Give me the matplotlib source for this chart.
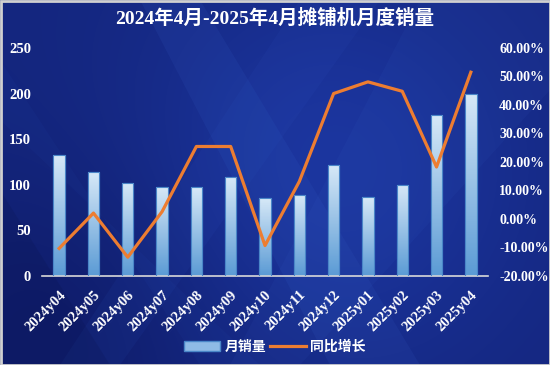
import numpy as np
import matplotlib.pyplot as plt
from matplotlib.patches import Polygon, Patch
from matplotlib.lines import Line2D
from matplotlib.colors import LinearSegmentedColormap

# data
months = ['2024y04', '2024y05', '2024y06', '2024y07', '2024y08', '2024y09', '2024y10',
          '2024y11', '2024y12', '2025y01', '2025y02', '2025y03', '2025y04']
sales = [132, 114, 102, 97, 97, 108, 85, 89, 121, 86, 100, 176, 200]
yoy = [-10.4, 2.0, -13.5, 2.5, 25.4, 25.4, -9.4, 13.1, 44.0, 48.1, 44.8, 18.2, 51.5]

title = '2024年4月-2025年4月摊铺机月度销量'
serif = ['Liberation Serif', 'Noto Sans CJK SC']
plt.rcParams['font.family'] = serif
plt.rcParams['font.weight'] = 'bold'

fig = plt.figure(figsize=(5.5, 3.65), dpi=100)
fig.patch.set_facecolor('#0f1c6e')

# background: gradient + diagonal streaks
bg = fig.add_axes([0, 0, 1, 1], zorder=0)
bg.set_xlim(0, 550)
bg.set_ylim(365, 0)
bg.axis('off')
yy, xx = np.mgrid[0:365, 0:550]
grad = 0.5 + 0.4 * np.exp(-((xx - 330) ** 2 + (yy - 170) ** 2) / 40000.0)
grad = grad - 0.25 * np.exp(-((xx - 60) ** 2 + (yy - 330) ** 2) / 30000.0)
dark = np.array([0x0a, 0x12, 0x55]) / 255
light = np.array([0x1e, 0x3a, 0xa8]) / 255
img = dark[None, None, :] + (light - dark)[None, None, :] * grad[..., None]
bg.imshow(np.clip(img, 0, 1), extent=(0, 550, 365, 0), aspect='auto')
streaks = [
    [(140, 0), (200, 0), (420, 365), (330, 365)],
    [(0, 60), (0, 120), (260, 365), (200, 365)],
    [(300, 0), (380, 0), (120, 365), (60, 365)],
    [(420, 0), (550, 0), (550, 90), (300, 365), (230, 365)],
    [(0, 190), (110, 365), (0, 365)],
]
alphas = [0.10, 0.07, 0.08, 0.06, 0.12]
cols = ['#3f6fd8', '#2e54c0', '#3560d0', '#4a7ae0', '#050a35']
for pts, a, c in zip(streaks, alphas, cols):
    bg.add_patch(Polygon(pts, closed=True, facecolor=c, alpha=a, edgecolor='none'))
bg.add_patch(plt.Rectangle((0.5, 0.5), 549, 364, fill=False, edgecolor='#d0d0d0', lw=2))

ax = fig.add_axes([42 / 550, 1 - 275.7 / 365, 446 / 550, (275.7 - 48) / 365], zorder=2)
ax.patch.set_alpha(0)
x = np.arange(len(months))
bars = ax.bar(x, sales, width=0.33, color='#6fa8dc', edgecolor='#4a86c8', lw=0.8, zorder=2)

# vertical gradient inside bars
gimg = np.linspace(0, 1, 100).reshape(-1, 1)
cm = LinearSegmentedColormap.from_list('b', ['#5b9bd5', '#d6e8f7'])
for b in bars:
    x0, w, h = b.get_x(), b.get_width(), b.get_height()
    im = ax.imshow(gimg, cmap=cm, origin='lower', aspect='auto',
                   extent=(x0, x0 + w, 0, h), zorder=2.5)
    im.set_clip_path(b)
    ax.add_patch(plt.Rectangle((x0, 0), w, h, fill=False, edgecolor='#4a86c8', lw=0.8, zorder=2.6))

ax.set_xlim(-0.5, len(months) - 0.5)
ax.set_ylim(0, 250)
ax.set_yticks(range(0, 251, 50))
ax.set_xticks(x)
ax.set_xticklabels(months, rotation=45, ha='right', rotation_mode='anchor')
for s in ['top', 'right', 'left']:
    ax.spines[s].set_visible(False)
ax.spines['bottom'].set_color('#d9d9d9')
ax.spines['bottom'].set_linewidth(1.2)
ax.tick_params(axis='y', colors='white', labelsize=10.5, length=0, pad=8)
ax.tick_params(axis='x', colors='white', labelsize=10.5, length=0, pad=9)

ax2 = ax.twinx()
ax2.set_zorder(3)
ax2.plot(x, yoy, color='#ed7d31', lw=2.3, zorder=3)
ax2.set_ylim(-20, 60)
ax2.set_yticks(range(-20, 61, 10))
ax2.set_yticklabels(['%.2f%%' % v for v in range(-20, 61, 10)])
for s in ax2.spines.values():
    s.set_visible(False)
ax2.tick_params(axis='y', colors='white', labelsize=10, length=0, pad=8)

fig.text(0.5, 0.951, title, ha='center', va='center', color='white', fontsize=14, fontweight='bold')

handles = [Patch(facecolor='#8fbbe6', edgecolor='#4a86c8'), Line2D([0], [0], color='#ed7d31', lw=2.3)]
fig.legend(handles, ['月销量', '同比增长'], loc='center', bbox_to_anchor=(0.5, 0.05), ncol=2,
           frameon=False, labelcolor='white', fontsize=10, handlelength=2.6, columnspacing=0.3,
           handletextpad=0.3)

fig.savefig('out.png', dpi=100, facecolor=fig.get_facecolor())
